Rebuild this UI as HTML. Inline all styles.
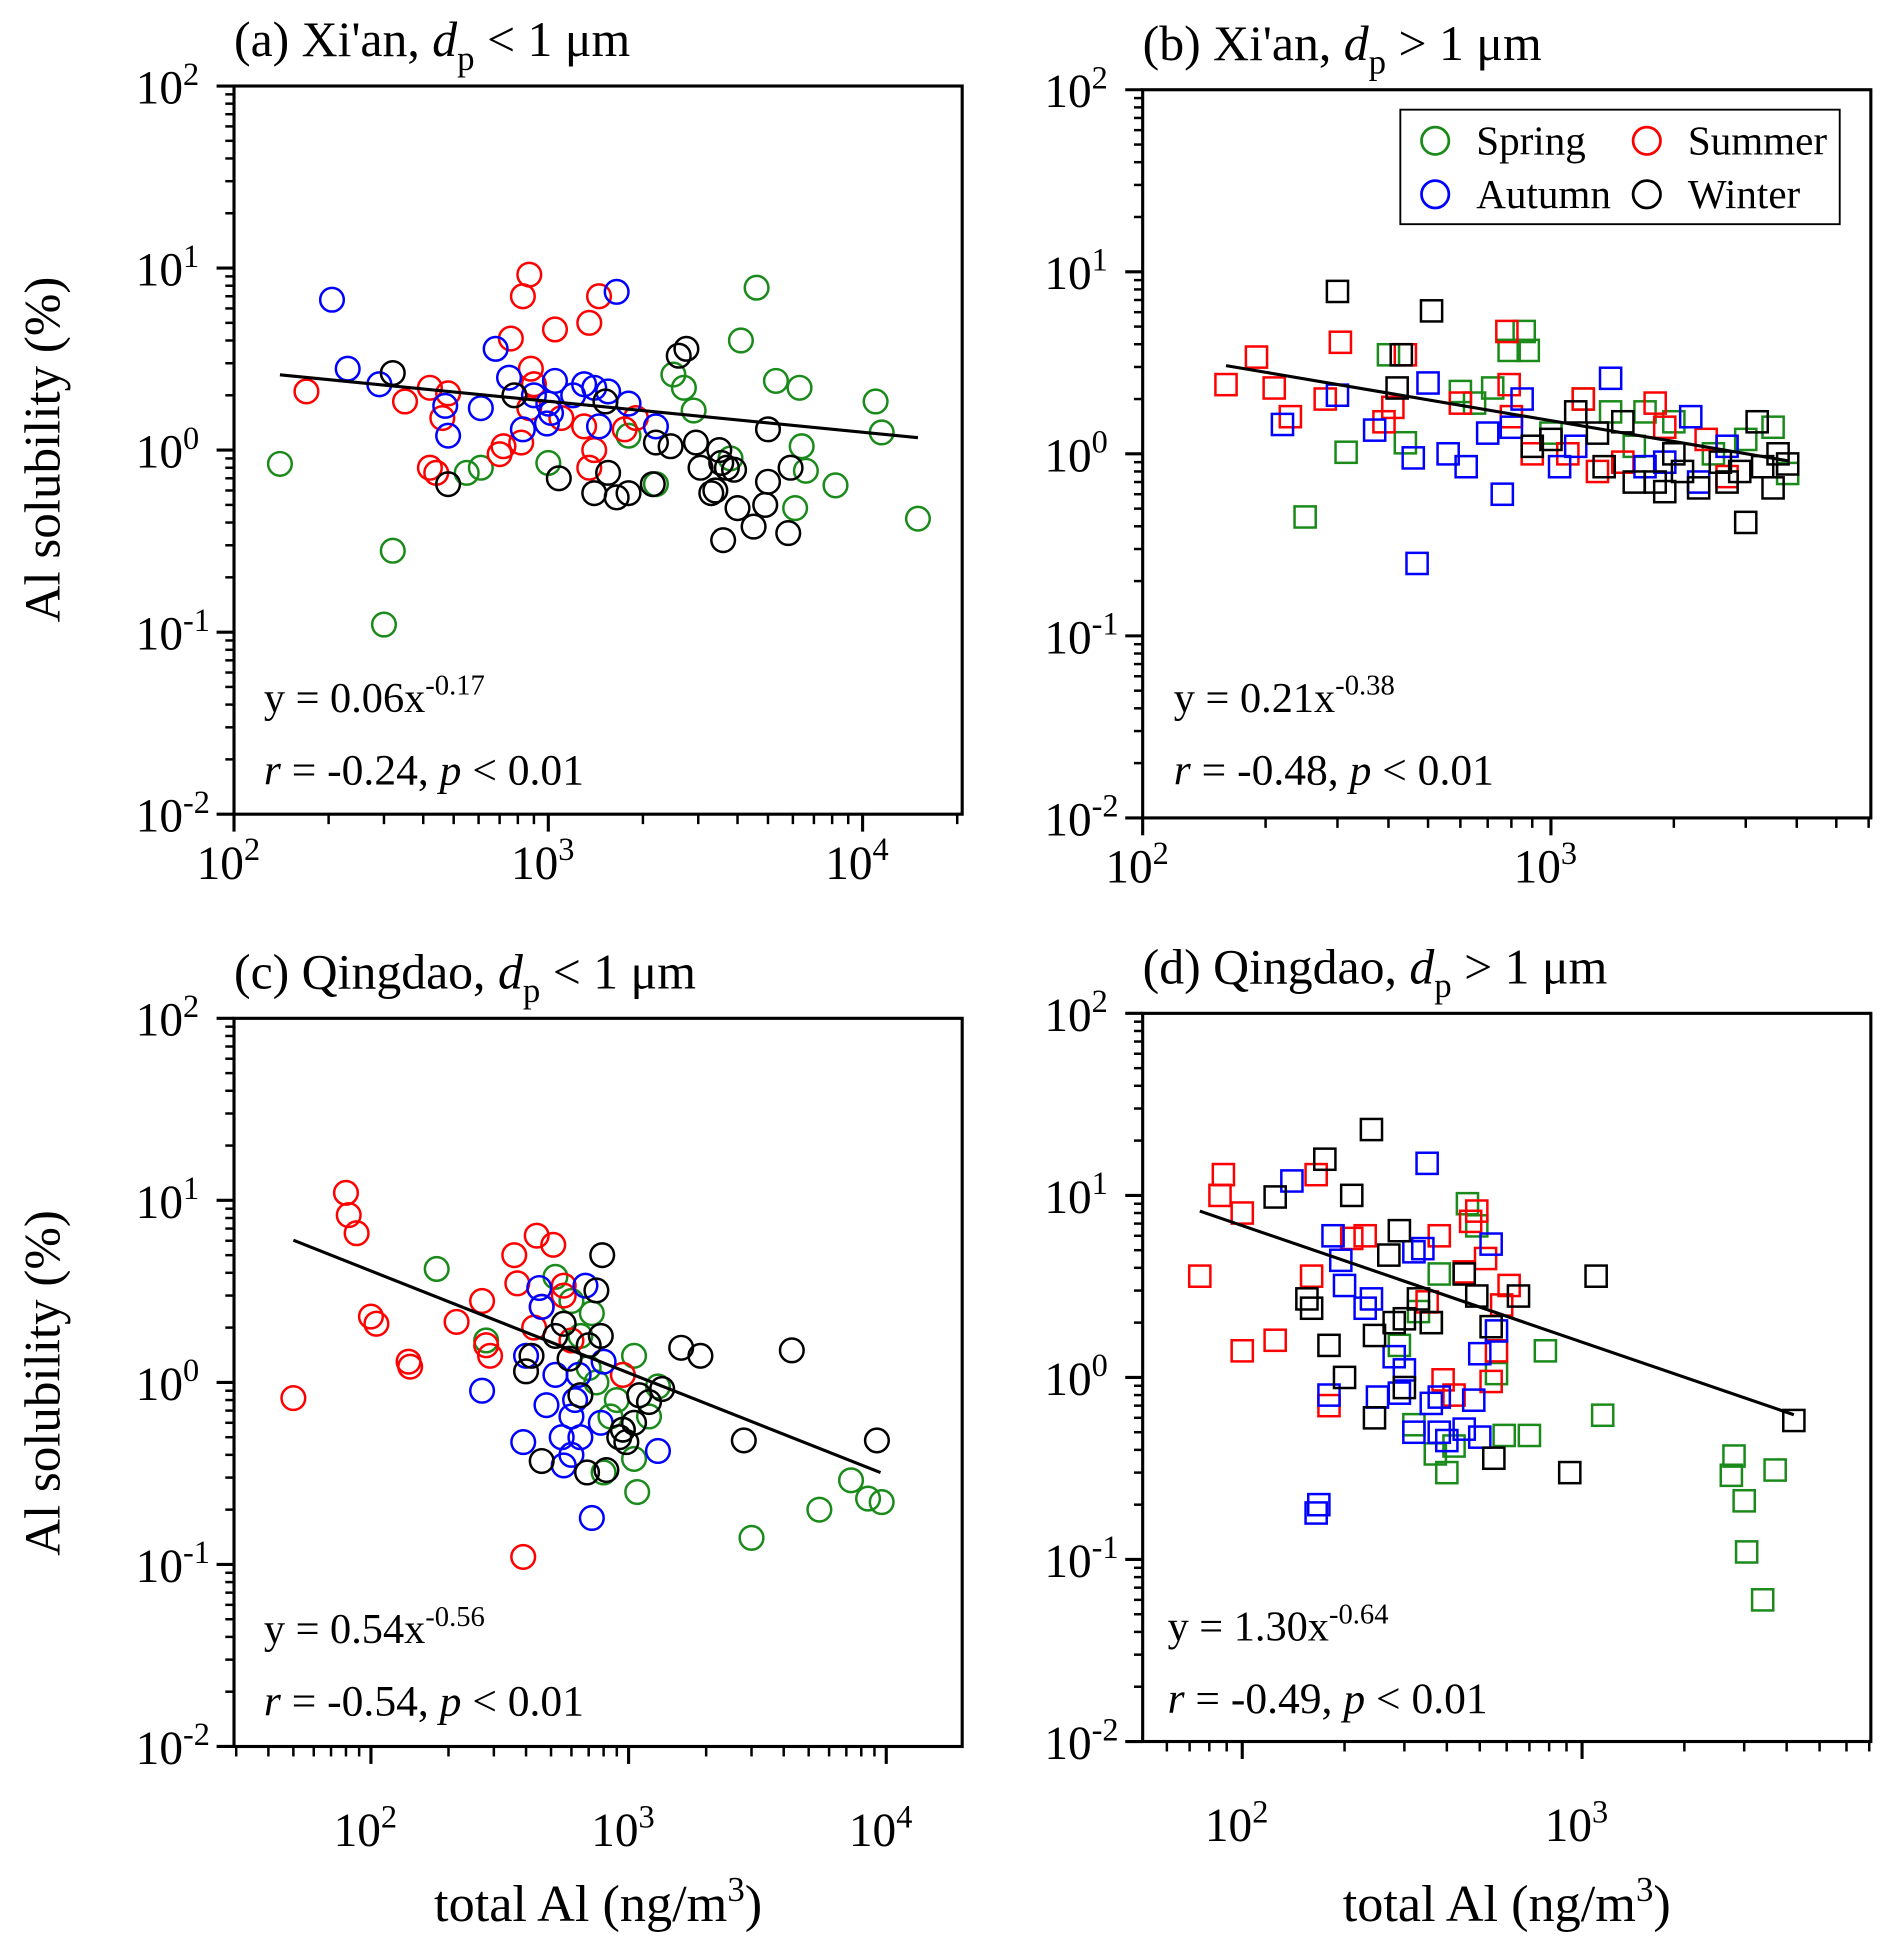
<!DOCTYPE html>
<html><head><meta charset="utf-8"><style>
html,body{margin:0;padding:0;background:#fff}
svg{display:block}
text{font-family:"Liberation Serif",serif;fill:#000}
</style></head><body>
<svg id="fig" width="1892" height="1952" viewBox="0 0 1520 1568" xmlns="http://www.w3.org/2000/svg"></svg>
<script>
// ---- data (total Al ng/m3, solubility %) ----
const aSpring=[[140,0.84],[320,0.28],[300,0.11],[550,0.75],[610,0.8],[1000,0.85],[2500,2.6],[2700,2.2],[2900,1.65],[4100,4.0],[4600,7.8],[5300,2.4],[6300,2.2],[6400,1.05],[6600,0.77],[6100,0.48],[8200,0.64],[11000,1.85],[11500,1.25],[15000,0.42],[2200,0.65],[3800,0.9],[1800,1.2]];
const aSummer=[[170,2.1],[350,1.85],[420,2.2],[480,2.05],[460,1.5],[420,0.8],[440,0.75],[700,0.95],[720,1.05],[760,4.1],[830,7.0],[870,9.2],[880,2.8],[900,2.3],[870,1.7],[820,1.1],[1050,4.6],[1350,5.0],[1450,7.0],[1300,1.35],[1400,1.0],[1350,0.8],[1750,1.3],[1900,1.5],[1100,1.5]];
const aAutumn=[[205,6.7],[230,2.8],[290,2.3],[470,1.75],[480,1.2],[610,1.7],[680,3.6],[750,2.5],[830,1.3],[990,1.4],[1050,2.4],[1020,1.6],[1200,2.0],[1300,2.3],[1400,2.2],[1550,2.1],[1450,1.35],[1650,7.4],[1800,1.8],[2200,1.35],[1000,1.8],[900,2.0]];
const aWinter=[[320,2.65],[480,0.65],[780,2.0],[1080,0.7],[1400,0.58],[1520,1.85],[1550,0.75],[1650,0.55],[1800,0.58],[2150,0.65],[2200,1.1],[2450,1.05],[2600,3.3],[2750,3.6],[2950,1.1],[3050,0.8],[3300,0.58],[3500,1.0],[3600,0.32],[3700,0.8],[3900,0.78],[4000,0.48],[4500,0.38],[4900,0.5],[5000,0.67],[5000,1.3],[5800,0.35],[5900,0.8],[3400,0.6],[3550,0.85]];

const bSpring=[[250,0.45],[315,1.02],[400,3.5],[440,1.15],[600,2.2],[650,1.9],[720,2.3],[790,3.7],[860,4.7],[880,3.7],[1000,1.3],[1200,2.0],[1400,1.7],[1700,1.7],[2000,1.5],[2500,1.0],[3000,1.2],[3500,1.4],[3800,0.78],[1600,1.1]];
const bSummer=[[160,2.4],[190,3.4],[210,2.3],[230,1.6],[280,2.0],[305,4.1],[390,1.5],[410,1.8],[440,3.5],[600,1.9],[780,4.7],[790,2.4],[800,1.6],[900,1.0],[1100,1.0],[1300,0.8],[1500,0.9],[1800,1.9],[1900,1.4],[2400,1.2],[1200,2.0],[2700,0.75]];
const bAutumn=[[220,1.45],[300,2.1],[370,1.35],[460,0.95],[470,0.25],[500,2.45],[560,1.0],[620,0.85],[700,1.3],[760,0.6],[800,1.4],[850,2.0],[1050,0.85],[1150,1.1],[1400,2.6],[1700,0.85],[1900,0.9],[2200,1.6],[2300,0.7],[2700,1.1]];
const bWinter=[[300,7.8],[420,2.3],[430,3.5],[510,6.1],[900,1.1],[1000,1.2],[1150,1.7],[1300,1.3],[1350,0.85],[1500,1.5],[1600,0.7],[1800,0.7],[1900,0.62],[2000,1.0],[2100,0.8],[2300,0.65],[2600,0.9],[2700,0.7],[2900,0.8],[3000,0.42],[3200,1.5],[3300,0.85],[3500,0.65],[3600,1.0],[3800,0.88]];

const cSpring=[[180,4.2],[280,1.7],[520,3.8],[600,2.8],[650,1.8],[720,2.4],[750,1.0],[800,0.32],[850,0.65],[900,0.8],[950,0.55],[1050,0.38],[1050,1.4],[1080,0.25],[1200,0.65],[1300,0.95],[3000,0.14],[5500,0.2],[7300,0.29],[8500,0.23],[9600,0.22],[700,1.2]];
const cSummer=[[50,0.82],[80,11],[82,8.3],[88,6.6],[100,2.3],[105,2.1],[140,1.3],[142,1.22],[215,2.15],[270,2.8],[280,1.6],[290,1.4],[360,5.0],[370,3.5],[390,0.11],[430,2.0],[440,6.4],[460,2.6],[510,5.7],[560,3.0],[600,1.7],[560,3.4],[950,1.1]];
const cAutumn=[[270,0.9],[390,0.47],[400,1.4],[450,3.3],[460,2.6],[480,0.75],[520,1.1],[550,0.5],[560,0.35],[600,0.65],[620,0.8],[640,1.1],[650,0.5],[680,3.4],[720,0.18],[780,0.6],[800,1.3],[1300,0.42],[600,0.4]];
const cWinter=[[400,1.15],[420,1.4],[460,0.37],[520,1.8],[560,2.1],[590,1.35],[650,0.85],[690,0.32],[700,1.6],[750,3.2],[780,1.8],[790,5.0],[820,0.33],[920,0.5],[950,0.55],[980,0.47],[1050,0.6],[1100,0.85],[1200,0.78],[1350,0.92],[1600,1.55],[1900,1.4],[2800,0.48],[4300,1.5],[9200,0.48]];

const dSpring=[[320,0.55],[330,2.3],[360,2.0],[370,0.38],[380,3.7],[400,0.3],[420,0.42],[460,9.0],[490,6.8],[560,1.05],[590,0.48],[700,0.48],[780,1.4],[1150,0.62],[2800,0.37],[2750,0.29],[3000,0.21],[3050,0.11],[3400,0.06],[3700,0.31],[290,1.5]];
const dSummer=[[75,3.6],[86,10.0],[88,13],[100,1.4],[100,8.0],[125,1.6],[160,3.6],[165,13],[180,0.7],[210,5.8],[230,6.0],[390,0.97],[380,6.0],[420,0.8],[450,3.8],[470,7.2],[490,8.2],[520,4.5],[540,0.95],[560,1.4],[580,2.5],[610,3.2],[350,2.6]];
const dAutumn=[[140,12],[165,0.18],[168,0.2],[180,0.8],[185,6.0],[195,4.4],[200,3.2],[230,2.4],[240,2.7],[250,0.78],[280,1.3],[290,0.82],[300,1.1],[320,4.9],[340,5.1],[320,0.5],[350,15],[360,0.72],[380,0.5],[380,0.78],[400,0.45],[450,0.52],[480,0.75],[500,0.47],[500,1.35],[540,5.4],[560,1.8]];
const dWinter=[[125,9.8],[155,2.7],[160,2.4],[175,15.8],[180,1.5],[200,1.0],[210,10.0],[240,23],[245,1.7],[245,0.6],[270,4.7],[280,2.0],[290,6.4],[300,2.1],[300,0.88],[330,2.7],[360,2.0],[450,3.7],[490,2.8],[540,1.9],[550,0.36],[650,2.8],[920,0.3],[1100,3.6],[4200,0.58]];

// fits: y(%) = coef * x^exp
const fitCoef=[6.0,21,54,130];
const fitExp=[-0.17,-0.38,-0.56,-0.64];
const fitRange=[[140,15000],[160,3800],[50,9500],[75,4200]];
const fitLabelA=["0.06","0.21","0.54","1.30"];
const fitLabelB=["-0.17","-0.38","-0.56","-0.64"];
const rLabel=["-0.24","-0.48","-0.54","-0.49"];
const yTickExp=[-2,-1,0,1,2];

const svg=document.getElementById('fig');
const NS='http://www.w3.org/2000/svg';
function mk(tag,attrs,parent){const e=document.createElementNS(NS,tag);for(const k in attrs)e.setAttribute(k,attrs[k]);(parent||svg).appendChild(e);return e;}
const colors={spring:'#1a8a1a',summer:'#ff0000',autumn:'#0000ff',winter:'#000000'};

const panels=[
 {id:'a',L:188,R:773,T:69,B:654,x0:100,dec:252.5,xExp:[2,3,4],title:["(a) Xi'an, ","<"],sets:[aSpring,aSummer,aAutumn,aWinter],sq:false,eqX:212,eqY:572,xlab:false},
 {id:'b',L:918,R:1503,T:72,B:657,x0:100,dec:328,xExp:[2,3],title:["(b) Xi'an, ",">"],sets:[bSpring,bSummer,bAutumn,bWinter],sq:true,eqX:943,eqY:572,xlab:false},
 {id:'c',L:188,R:773,T:818,B:1403,x0:Math.pow(10,2-110/207),dec:207,xExp:[2,3,4],title:["(c) Qingdao, ","<"],sets:[cSpring,cSummer,cAutumn,cWinter],sq:false,eqX:212,eqY:1320,xlab:true},
 {id:'d',L:918,R:1503,T:814,B:1399,x0:Math.pow(10,2-80/273),dec:273,xExp:[2,3],title:["(d) Qingdao, ",">"],sets:[dSpring,dSummer,dAutumn,dWinter],sq:true,eqX:938,eqY:1318,xlab:true}
];
const seasonNames=['spring','summer','autumn','winter'];

panels.forEach((p,pi)=>{
  const g=mk('g',{});
  
  
  const xs=v=>p.L+(Math.log10(v)-Math.log10(p.x0))*p.dec;
  const ydec=(p.B-p.T)/4;
  const ys=v=>p.B-(Math.log10(v)+2)*ydec;
  const t=mk('text',{x:p.L,y:p.T-24,'font-size':40},g);
  
  
  t.innerHTML=p.title[0]+'<tspan font-style="italic">d</tspan><tspan font-size="28" dy="11">p</tspan><tspan dy="-11"> '+(p.title[1]=='<'?'&lt;':'&gt;')+' 1 μm</tspan>';
  const fr=mk('rect',{x:p.L,y:p.T,width:p.R-p.L,height:p.B-p.T,fill:'none',stroke:'#000','stroke-width':2.5},g);
  
  
  for(let e=-2;e<=2;e++){
    const y=ys(Math.pow(10,e));
    mk('line',{x1:p.L-14,x2:p.L,y1:y,y2:y,stroke:'#000','stroke-width':2.5},g);
    if(e<2)for(let m=2;m<=9;m++){const yy=ys(m*Math.pow(10,e));mk('line',{x1:p.L-7,x2:p.L,y1:yy,y2:yy,stroke:'#000','stroke-width':2},g);}
  }
  yTickExp.forEach(e=>{
    const y=ys(Math.pow(10,e));
    const tl=mk('text',{x:p.L-41,y:y+14,'font-size':38,'text-anchor':'end'},g);
    
    
    tl.textContent='10';
    const sup=mk('text',{x:p.L-41,y:y-1,'font-size':26,'text-anchor':'start'},g);
    
    
    sup.textContent=String(e);
  });
  const lo=Math.log10(p.x0), hi=lo+(p.R-p.L)/p.dec;
  for(let e=Math.floor(lo);e<=Math.ceil(hi);e++){
    for(let m=1;m<=9;m++){
      const v=m*Math.pow(10,e);const lv=Math.log10(v);
      if(lv<lo-1e-6||lv>hi+1e-6)continue;
      const x=xs(v);
      mk('line',{x1:x,x2:x,y1:p.B,y2:p.B+(m==1?14:8),stroke:'#000','stroke-width':m==1?2.5:2},g);
    }
  }
  p.xExp.forEach(e=>{
    const x=xs(Math.pow(10,e));
    const tl=mk('text',{x:x+8,y:p.B+(p.xlab?80:52),'font-size':38,'text-anchor':'end'},g);
    
    
    tl.textContent='10';
    const sup=mk('text',{x:x+8,y:p.B+(p.xlab?65:37),'font-size':26},g);
    
    
    sup.textContent=String(e);
  });
  p.sets.forEach((set,si)=>{
    set.forEach(d=>{
      const x=xs(d[0]),y=ys(d[1]);
      let el;
      if(p.sq) el=mk('rect',{x:x-8.5,y:y-8.5,width:17,height:17,fill:'none',stroke:colors[seasonNames[si]],'stroke-width':2},g);
      else el=mk('circle',{cx:x,cy:y,r:9.5,fill:'none',stroke:colors[seasonNames[si]],'stroke-width':2},g);
      
      
    });
  });
  const fx=fitRange[pi];
  const fl=mk('line',{x1:xs(fx[0]),y1:ys(fitCoef[pi]*Math.pow(fx[0],fitExp[pi])),x2:xs(fx[1]),y2:ys(fitCoef[pi]*Math.pow(fx[1],fitExp[pi])),stroke:'#000','stroke-width':2.5},g);
  
  
  const eq=mk('text',{x:p.eqX,y:p.eqY,'font-size':34},g);
  
  
  eq.innerHTML='y = '+fitLabelA[pi]+'x<tspan font-size="23" dy="-14">'+fitLabelB[pi]+'</tspan>';
  const rr=mk('text',{x:p.eqX,y:p.eqY+58,'font-size':35},g);
  
  
  rr.innerHTML='<tspan font-style="italic">r</tspan> = '+rLabel[pi]+', <tspan font-style="italic">p</tspan> &lt; 0.01';
  if(p.xlab){
    const xl=mk('text',{x:(p.L+p.R)/2,y:1543,'font-size':42,'text-anchor':'middle'},g);
    
    
    xl.innerHTML='total Al (ng/m<tspan font-size="28" dy="-16">3</tspan><tspan dy="16">)</tspan>';
  }
});
[[361,'a'],[1111,'c']].forEach(v=>{
  const yl=mk('text',{x:0,y:0,'font-size':41,'text-anchor':'middle',transform:'translate(48,'+v[0]+') rotate(-90)'});
  
  
  yl.textContent='Al solubility (%)';
});
const lg=mk('g',{});


mk('rect',{x:1125,y:88,width:353,height:92,fill:'#fff',stroke:'#000','stroke-width':1.5},lg);
const legendItems=[['Spring','spring',1153,113],['Summer','summer',1323,113],['Autumn','autumn',1153,156],['Winter','winter',1323,156]];
legendItems.forEach(it=>{
  const c=mk('circle',{cx:it[2],cy:it[3],r:11,fill:'none',stroke:colors[it[1]],'stroke-width':2.2},lg);
  
  
  const tx=mk('text',{x:it[2]+33,y:it[3]+11,'font-size':33},lg);
  
  
  tx.textContent=it[0];
});
</script>
</body></html>
